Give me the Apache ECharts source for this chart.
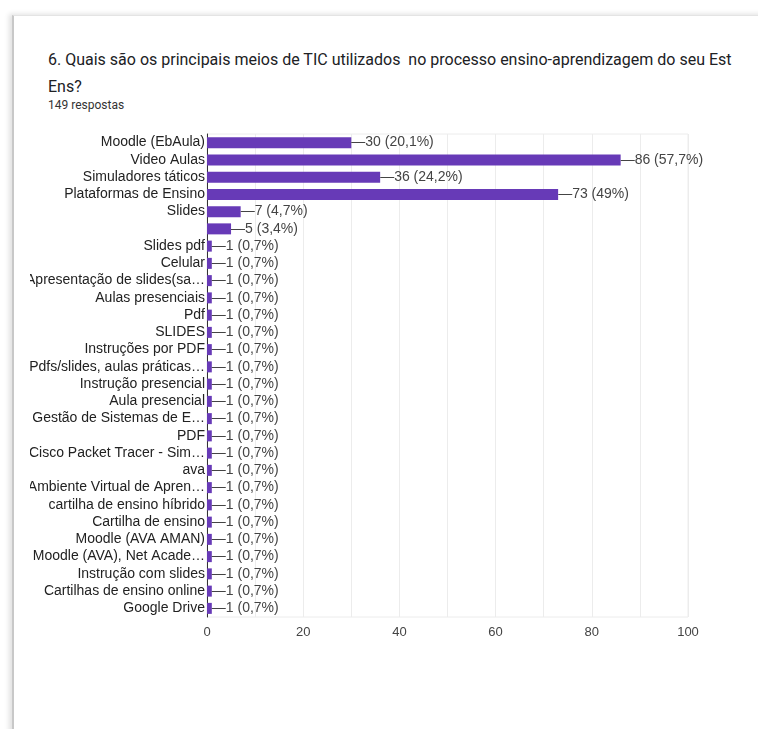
<!DOCTYPE html>
<html>
<head>
<meta charset="utf-8">
<script src="https://cdn.jsdelivr.net/npm/echarts@6/dist/echarts.min.js"></script>
<style>
  html, body { margin: 0; padding: 0; background: #fff; }
  body { width: 758px; height: 729px; position: relative; overflow: hidden; }
  #card {
    position: absolute; left: 12px; top: 15px; width: 800px; height: 760px;
    border-left: 2px solid #c8c8c8; border-top: 1px solid #e4e4e4;
    box-shadow: -3px -1px 5px rgba(0, 0, 0, 0.12);
  }
  #title {
    position: absolute; left: 48px; top: 46px; width: 700px;
    font-family: Roboto, sans-serif; font-size: 16px; line-height: 27px; color: #202124;
    white-space: pre-wrap;
  }
  #count {
    position: absolute; left: 48px; top: 98px;
    font-family: Roboto, sans-serif; font-size: 12px; color: #333;
  }
  #chart { position: absolute; left: 30px; top: 126px; width: 700px; height: 540px; }
</style>
</head>
<body>
<div id="card"></div>
<div id="title">6. Quais são os principais meios de TIC utilizados  no processo ensino-aprendizagem do seu Est Ens?</div>
<div id="count">149 respostas</div>
<div id="chart"></div>
<script>
  const totalResponses = 149;
  const categories = [
    'Moodle (EbAula)',
    'Video Aulas',
    'Simuladores táticos',
    'Plataformas de Ensino',
    'Slides',
    '',
    'Slides pdf',
    'Celular',
    'Apresentação de slides(sa…',
    'Aulas presenciais',
    'Pdf',
    'SLIDES',
    'Instruções por PDF',
    'Pdfs/slides, aulas práticas…',
    'Instrução presencial',
    'Aula presencial',
    'Gestão de Sistemas de E…',
    'PDF',
    'Cisco Packet Tracer - Sim…',
    'ava',
    'Ambiente Virtual de Apren…',
    'cartilha de ensino híbrido',
    'Cartilha de ensino',
    'Moodle (AVA AMAN)',
    'Moodle (AVA), Net Acade…',
    'Instrução com slides',
    'Cartilhas de ensino online',
    'Google Drive'
  ];
  const counts = [30, 86, 36, 73, 7, 5, 1, 1, 1, 1, 1, 1, 1, 1, 1, 1, 1, 1, 1, 1, 1, 1, 1, 1, 1, 1, 1, 1];
  const xTicks = [0, 20, 40, 60, 80, 100];

  function pctLabel(v) {
    const p = (v / totalResponses * 100).toFixed(1).replace(/\.0$/, '').replace('.', ',');
    return '—' + v + ' (' + p + '%)';
  }

  const chart = echarts.init(document.getElementById('chart'));
  chart.setOption({
    animation: false,
    textStyle: { fontFamily: 'Liberation Sans, Arial, sans-serif' },
    grid: {
      left: 177, top: 8, width: 481, height: 483,
      containLabel: false,
      outerBoundsMode: 'none',
      show: true, borderColor: '#ececec', borderWidth: 1
    },
    xAxis: {
      type: 'value',
      min: xTicks[0],
      max: xTicks[xTicks.length - 1],
      interval: 20,
      axisLine: { show: false },
      axisTick: { show: false },
      axisLabel: { color: '#444', fontSize: 13, margin: 9 },
      splitLine: { lineStyle: { color: '#ececec' } },
      minorTick: { show: false, splitNumber: 2 },
      minorSplitLine: { show: true, lineStyle: { color: '#ececec' } }
    },
    yAxis: {
      type: 'category',
      inverse: true,
      data: categories,
      axisLine: { show: true, lineStyle: { color: '#333', width: 1 } },
      axisTick: { show: false },
      axisLabel: { color: '#222', fontSize: 14, margin: 2, interval: 0 }
    },
    series: [{
      type: 'bar',
      data: counts,
      barWidth: 11,
      itemStyle: { color: '#673ab7' },
      label: {
        show: true,
        position: 'right',
        distance: 0,
        color: '#444',
        fontSize: 14,
        formatter: (p) => pctLabel(p.value)
      }
    }]
  });
</script>
</body>
</html>
